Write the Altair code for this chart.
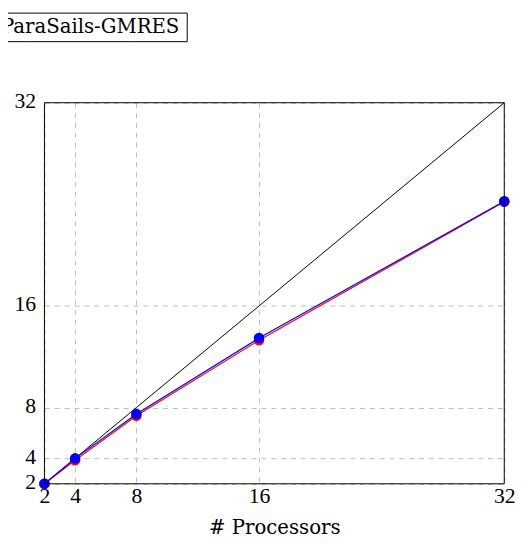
import altair as alt
import pandas as pd

procs = [2, 4, 8, 16, 32]
ideal = [2, 4, 8, 16, 32]
red_vals = [2, 3.85, 7.35, 13.3, 24.2]
blue_vals = [2, 4.0, 7.5, 13.47, 24.25]
ticks = [2, 4, 8, 16, 32]
legend_label = ["ParaSails-GMRES"]

NUM_FONT = "Liberation Serif"
TXT_FONT = "DejaVu Serif"

df_ideal = pd.DataFrame({"p": procs, "v": ideal})
df_red = pd.DataFrame({"p": procs, "v": red_vals})
df_blue = pd.DataFrame({"p": procs, "v": blue_vals})

xs = alt.Scale(domain=[2, 32], nice=False, zero=False)
ys = alt.Scale(domain=[2, 32], nice=False, zero=False)

xax = alt.Axis(values=ticks, title="# Processors", grid=True, gridDash=[5, 5],
               gridColor="#bbbbbb", ticks=False, domain=False, labelFont=NUM_FONT,
               labelFontSize=22, labelColor="black", labelPadding=2,
               titleFont=TXT_FONT, titleFontSize=20, titleFontWeight="normal",
               titleColor="black", titlePadding=12, labelFlush=False, zindex=0)
yax = alt.Axis(values=ticks, title=None, grid=True, gridDash=[5, 5],
               gridColor="#bbbbbb", ticks=False, domain=False, labelFont=NUM_FONT,
               labelFontSize=22, labelColor="black", labelPadding=9,
               labelOffset=-2, labelFlush=False, zindex=0)

ideal_line = alt.Chart(df_ideal).mark_line(color="black", strokeWidth=1).encode(
    x=alt.X("p:Q", scale=xs, axis=xax),
    y=alt.Y("v:Q", scale=ys, axis=yax),
)

def series(df, color):
    line = alt.Chart(df).mark_line(color=color, strokeWidth=1.2).encode(
        x=alt.X("p:Q", scale=xs), y=alt.Y("v:Q", scale=ys))
    pts = alt.Chart(df).mark_circle(color=color, size=115, opacity=1).encode(
        x=alt.X("p:Q", scale=xs), y=alt.Y("v:Q", scale=ys))
    return line + pts

red = series(df_red, "#ff0000")
blue = series(df_blue, "#0000ff")

one = pd.DataFrame({"t": legend_label})

frame = alt.Chart(one).mark_rect(
    fill="white", fillOpacity=0, stroke="black", strokeWidth=1, clip=False).encode(
    x=alt.value(0), x2=alt.value(467), y=alt.value(0), y2=alt.value(387))

legend_box = alt.Chart(one).mark_rect(
    fill="white", stroke="black", strokeWidth=1, clip=False).encode(
    x=alt.value(-80), x2=alt.value(145), y=alt.value(-91), y2=alt.value(-62))

legend_text = alt.Chart(one).mark_text(
    align="right", baseline="alphabetic", font=TXT_FONT, fontSize=20,
    color="black", clip=False).encode(
    x=alt.value(137), y=alt.value(-71), text="t:N")

chart = alt.layer(ideal_line, red, blue, frame, legend_box, legend_text).properties(
    width=467, height=387,
    autosize=alt.AutoSizeParams(type="none"),
    padding={"left": 37, "top": 92, "right": 17, "bottom": 60},
).configure_view(stroke=None)

chart.save("out.html", embed_options={"renderer": "svg", "actions": False})
